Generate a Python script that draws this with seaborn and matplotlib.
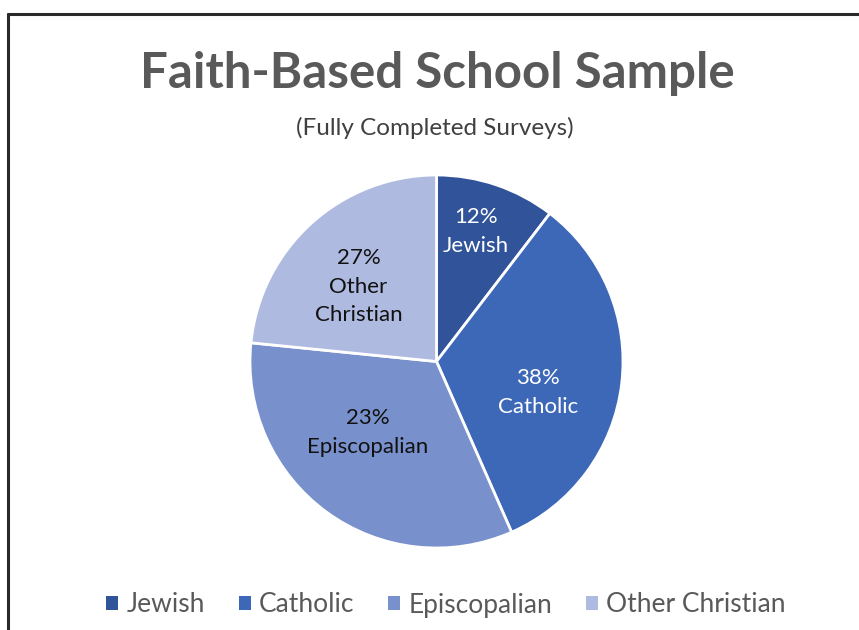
import matplotlib
matplotlib.use("Agg")
import matplotlib.pyplot as plt
from matplotlib.lines import Line2D
from matplotlib.patches import Patch
import numpy as np
import seaborn as sns

# ---- data ----
categories = ["Jewish", "Catholic", "Episcopalian", "Other Christian"]
slice_values = [10.4, 33.0, 33.2, 23.4]          # slice sizes as drawn
label_pcts = ["12%", "38%", "23%", "27%"]         # printed percentages
label_names = ["Jewish", "Catholic", "Episcopalian", "Other\nChristian"]
colors = ["#30539A", "#3D68B8", "#7890CB", "#AEBAE0"]
label_colors = ["white", "white", "#111111", "#111111"]
label_r = [0.73, 0.57, 0.53, 0.58]
label_dtheta = [2, -10, -8, 4]

sns.set_theme(style="white")
plt.rcParams["font.family"] = ["Lato", "DejaVu Sans"]

W, H = 859, 630
fig = plt.figure(figsize=(W / 100, H / 100), dpi=100)
fig.patch.set_facecolor("white")

# frame lines (top and left) as in the screenshot
fig.add_artist(Line2D([7.5 / W, 1.0], [1 - 13.5 / H, 1 - 13.5 / H], color="#2a2a2a", lw=2.2))
fig.add_artist(Line2D([7.5 / W, 7.5 / W], [0, 1 - 13.5 / H], color="#2a2a2a", lw=2.2))

cx, cy, R = 436.5, 361.5, 186.5
ax = fig.add_axes([(cx - R) / W, (H - cy - R) / H, 2 * R / W, 2 * R / H])
wedges, _ = ax.pie(slice_values, colors=colors, startangle=90, counterclock=False,
                   radius=1.0, wedgeprops=dict(edgecolor="white", linewidth=2))
ax.set_xlim(-1, 1)
ax.set_ylim(-1, 1)
ax.set_aspect("equal")
ax.axis("off")

for w, pct, name, c, r, dt in zip(wedges, label_pcts, label_names, label_colors, label_r, label_dtheta):
    th = np.deg2rad((w.theta1 + w.theta2) / 2 + dt)
    ax.text(r * np.cos(th), r * np.sin(th), f"{pct}\n{name}", ha="center", va="center",
            color=c, fontsize=16, linespacing=1.55)

fig.text(437 / W, 1 - 74 / H, "Faith-Based School Sample", ha="center", va="center",
         fontsize=35.5, fontweight="bold", color="#595959")
fig.text(435 / W, 1 - 128 / H, "(Fully Completed Surveys)", ha="center", va="center",
         fontsize=17.5, color="#404040")

handles = [Patch(facecolor=c, edgecolor="none") for c in colors]
leg = fig.legend(handles, categories, loc="center", bbox_to_anchor=(446 / W, 1 - 605 / H),
                 ncol=4, frameon=False, fontsize=19, handlelength=0.45, handleheight=0.45,
                 handletextpad=0.3, columnspacing=1.3, labelcolor="#595959")

fig.savefig("out.png", dpi=100)
